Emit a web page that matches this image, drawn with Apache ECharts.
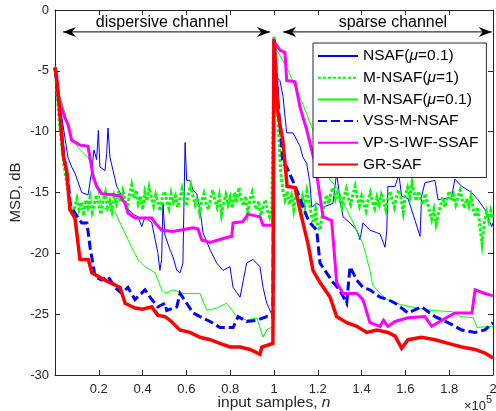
<!DOCTYPE html>
<html><head><meta charset="utf-8">
<script src="https://cdn.jsdelivr.net/npm/echarts@6/dist/echarts.min.js"></script>
<style>html,body{margin:0;padding:0;background:#fff}#c{width:496px;height:411px}</style>
</head><body><div id="c"></div><script>
// x values are in thousands of input samples (axis labels are shown in units of 1e5)
const seriesNames = ['NSAF(μ=0.1)', 'M-NSAF(μ=1)', 'M-NSAF(μ=0.1)', 'VSS-M-NSAF', 'VP-S-IWF-SSAF', 'GR-SAF'];
const xTickLabels = ['', '0.2', '0.4', '0.6', '0.8', '1', '1.2', '1.4', '1.6', '1.8', '2'];
const yTickLabels = ['-30', '-25', '-20', '-15', '-10', '-5', '0'];

const nsafData = [[0,-4.8],[1.4,-6.8],[3.1,-8.8],[5.9,-12.1],[7.6,-12.9],[9.1,-13.4],[12.2,-15],[15.1,-15.2],[16.8,-13.2],[17.8,-11.5],[19,-12.3],[19.8,-9.9],[20.5,-12.9],[22.8,-13.2],[23.6,-11.8],[24.2,-9.7],[25.1,-12.1],[26.5,-13.2],[28.2,-14.5],[30.5,-15.3],[32.7,-16.2],[35,-16.7],[37.9,-17],[39.6,-17.8],[41.1,-17],[44.2,-17.5],[47,-20],[47.9,-21.4],[48.7,-20.5],[49.3,-15.9],[50.2,-18.5],[52.5,-19.7],[53.9,-20.3],[55.6,-21.4],[57.1,-21.6],[58.4,-20.8],[59.4,-10.9],[60.1,-14],[61.6,-14],[63,-14.8],[64.7,-15.1],[66.2,-16.4],[67.6,-18.3],[70.8,-19.7],[73.8,-20.8],[76.7,-21.4],[79.9,-21.1],[81.3,-22.8],[84.5,-23.6],[87.5,-20.8],[90.4,-20.5],[93.6,-21.1],[95,-22.8],[96.7,-24.1],[98.2,-24.7],[99.5,-25.2],
  [100,-2.5],[101.2,-5.5],[102.7,-5.8],[104.1,-7.1],[105.8,-10.1],[108.7,-10.1],[111.9,-11.2],[113.2,-12.1],[114.9,-12.6],[116.4,-14.2],[117.2,-16.2],[119.5,-15.9],[122.4,-16.2],[126.9,-15.9],[128.6,-13.4],[130.1,-15.5],[131.5,-17],[134.7,-17.5],[137.8,-18.1],[139.3,-18.9],[140.6,-17.5],[143.8,-18.1],[146.9,-18.3],[148.4,-18.4],[150.7,-19.5],[151.5,-18.1],[152,-14.5],[155.3,-14.5],[157,-13.5],[158.3,-15.3],[161.2,-15.5],[164.4,-17.3],[166.7,-18.6],[167.4,-15.3],[168.9,-14.2],[173.5,-14],[174.9,-15.6],[181.1,-15.4],[182.6,-13.9],[185.7,-14.5],[190.3,-15],[193.2,-15.6],[196.3,-16.4],[199.4,-17.8],[200,-17.5]];

// M-NSAF(mu=1): one value per 1000 samples, from 0 to 200000
const mnsaf1Step = 1;
const mnsaf1Values = [-4.8,-7.0,-9.2,-11.0,-12.6,-13.8,-15.0,-16.0,-16.9,-16.2,-15.5,-16.4,-15.8,-16.9,-15.6,-16.2,-15.4,-16.6,-15.9,-15.2,-16.1,-16.8,-15.6,-15.0,-16.2,-15.7,-16.5,-15.3,-15.9,-15.1,-15.8,-14.9,-15.6,-16.3,-15.2,-14.4,-15.5,-14.8,-15.9,-15.3,-16.4,-15.0,-15.7,-14.6,-15.4,-16.1,-15.2,-15.8,-16.5,-15.4,-14.9,-15.7,-16.3,-15.1,-15.8,-15.3,-16.2,-15.5,-14.7,-15.6,-16.1,-15.0,-14.4,-15.3,-16.0,-15.4,-16.6,-15.7,-15.1,-15.9,-16.4,-15.5,-14.8,-15.6,-16.2,-15.3,-16.8,-15.9,-15.2,-16.0,-15.4,-16.3,-15.0,-15.8,-14.6,-15.5,-16.1,-15.3,-16.7,-15.6,-15.0,-15.9,-16.4,-15.7,-16.9,-16.2,-15.6,-16.5,-17.0,-16.3,
  -2.2,-5.5,-9.9,-13.2,-14.8,-15.6,-14.9,-16.0,-15.3,-16.4,-15.1,-15.8,-16.6,-15.4,-16.2,-14.9,-15.7,-16.8,-17.5,-16.4,-17.8,-18.1,-16.9,-16.0,-15.2,-15.9,-15.0,-14.6,-15.5,-14.8,-15.6,-16.2,-15.3,-14.7,-15.5,-16.0,-15.2,-14.5,-15.4,-16.1,-15.3,-15.9,-16.5,-15.6,-15.0,-15.8,-16.3,-15.4,-16.0,-15.2,-15.7,-16.4,-15.5,-14.9,-15.6,-16.2,-15.3,-14.8,-15.5,-16.6,-15.2,-14.6,-15.4,-14.2,-15.0,-15.7,-14.9,-15.6,-16.0,-15.1,-15.8,-16.5,-17.2,-16.4,-17.6,-16.8,-16.1,-15.4,-16.2,-15.5,-14.9,-15.7,-15.2,-16.0,-15.4,-14.8,-15.6,-16.3,-15.5,-16.1,-15.3,-16.4,-17.0,-16.2,-17.8,-19.2,-17.5,-16.6,-17.3,-16.5,-17.2];

const mnsaf01Data = [[0,-4.6],[2.3,-7.1],[4.6,-8.5],[7.6,-10.4],[10.5,-11.3],[13.7,-11.9],[15.1,-12.1],[18.3,-13.7],[21.3,-16.2],[24.2,-16.4],[27.4,-16.6],[30.5,-17.8],[35,-19.5],[37.9,-20.5],[41.1,-21.1],[45.7,-21.6],[48.7,-23],[50.2,-23.3],[53.9,-23],[58.4,-23.3],[66.2,-23.3],[69.3,-24.7],[73.8,-24.5],[78.4,-24.1],[83,-25.2],[87.5,-25.5],[92.1,-25.3],[95,-26.9],[96.7,-26.3],[99.5,-26],
  [100,-2.2],[101.2,-3.3],[105.8,-4.7],[110.4,-6.6],[113.3,-7.8],[117.8,-9.9],[122.4,-12.1],[125.6,-14],[128.6,-14.5],[133.2,-16.4],[137.8,-18.1],[140.6,-19.2],[143.8,-21.4],[145,-22.6],[148.4,-23.3],[151.6,-23.8],[157.5,-24.2],[165.3,-24.5],[172.6,-24.7],[181.7,-24.8],[185,-25.2],[191,-25.3],[192.7,-26.1],[198.6,-26],[200,-26]];

const vssData = [[0,-4.8],[2,-8],[4,-12],[6,-14],[7,-16],[9.1,-16.7],[12.2,-17.5],[14.6,-17.5],[16,-19.5],[18.3,-21.9],[21.3,-22.2],[24.2,-21.9],[27.4,-22.8],[30.5,-23.3],[33.3,-22.8],[36.5,-23.8],[41.1,-23],[44.2,-23.8],[47,-24.4],[50.2,-24.1],[51,-24.7],[55.6,-24.4],[57.1,-23.3],[60.1,-24.1],[63,-24.9],[66.2,-25.2],[70.8,-25.6],[75.3,-26.1],[81.3,-26.1],[83.6,-25.2],[87.5,-25.6],[92.1,-25.5],[96.7,-25.2],[99.5,-25.3],
  [100,-2.5],[101,-5],[102,-8],[103,-10],[104,-12.6],[105.8,-12.9],[110.4,-14.8],[115,-17],[116.5,-17.5],[119.5,-18.1],[121,-20.8],[124,-21.6],[127,-22.4],[130,-23],[133.2,-24.1],[134.7,-21.1],[137.8,-22.2],[140.6,-22.8],[143.8,-23],[148.4,-23.6],[152,-23.8],[155.3,-24.1],[161.2,-24.9],[167.4,-24.4],[173.5,-25.2],[179.5,-25.7],[185.7,-26.3],[191.8,-26.5],[196.3,-26.3],[200,-25.7]];

const vpData = [[0,-4.8],[2,-7.5],[4.6,-8.9],[5.9,-9.4],[7.6,-10.7],[11.4,-11.1],[15.1,-11.2],[17.4,-13.7],[19,-14.5],[21.3,-15.1],[27.4,-15.2],[29.7,-15.3],[32,-15.9],[33.3,-16.7],[36.5,-17.1],[44.2,-17.1],[45.7,-17.5],[48.7,-18.1],[53.9,-18.2],[57.1,-18.1],[63,-17.9],[65.3,-18],[67,-18.9],[70.8,-19.1],[78.4,-18.7],[80.7,-18.6],[81.3,-17.5],[85.8,-17.4],[88.1,-16.8],[91,-16.9],[93.6,-17],[95,-17.7],[99.5,-17.7],
  [100,-2.6],[102.7,-3.3],[105,-3.5],[105.8,-5.8],[109.6,-5.9],[111.9,-8],[115,-9.9],[118.7,-12.6],[121,-15.3],[122.4,-17],[126.3,-17.3],[127.9,-20.8],[128.6,-22.4],[131.5,-23.3],[137.8,-23.3],[140.6,-23.8],[143.8,-25.7],[148.4,-26],[150,-25.5],[152,-26],[155.3,-25.6],[161.2,-25.3],[168.9,-25.2],[172,-26],[176.7,-25.5],[182.6,-24.9],[190.4,-24.9],[191.8,-23],[196.3,-23.3],[200,-23.5]];

const grsafData = [[0,-4.7],[0.5,-5.2],[2,-8],[3.8,-12],[5.3,-13.2],[6.8,-16.4],[9.1,-17.1],[11.4,-20.5],[15.2,-20.5],[16.8,-21.6],[22.8,-22.2],[29.7,-22.8],[32,-24.1],[36.5,-24.5],[40,-24.6],[44.2,-24.4],[47,-25.1],[50.2,-25.2],[52.5,-25.5],[57,-26.3],[61.6,-26.5],[66.2,-26.9],[70.8,-27.1],[75.3,-27.4],[79.9,-27.7],[84.5,-27.7],[89,-27.9],[93.6,-28.3],[94.4,-27.7],[99.5,-27.4],
  [100,-2.4],[101,-5.5],[101.8,-8.5],[104,-10.7],[106,-14.5],[109.6,-14.6],[112.6,-17],[115.5,-19.2],[117.8,-21.4],[121,-22.4],[125.6,-23.6],[128.6,-25.2],[133.2,-25.7],[137.8,-26],[142.3,-26.5],[146.9,-26.3],[152,-26.5],[155.3,-26.8],[158.3,-27.8],[161.2,-27.1],[167.4,-26.9],[173.5,-27.1],[179.5,-27.4],[185.7,-27.7],[191.8,-27.9],[196.3,-28.2],[200,-28.6]];

const FONT = "'Liberation Sans', Arial, Helvetica, sans-serif";
const AX = '#262626';
const chart = echarts.init(document.getElementById('c'), null, {renderer: 'canvas'});

function line(name, data, color, width, type) {
  return {name, type: 'line', data, symbol: 'none', showSymbol: false, animation: false,
    lineStyle: {color, width, type, cap: 'butt', join: 'miter'}, itemStyle: {color}, emphasis: {disabled: true}};
}
const mnsaf1Data = mnsaf1Values.map((v, i) => [i * mnsaf1Step, v]);

const axisCommon = {
  type: 'value', axisLine: {show: true, onZero: false, lineStyle: {color: AX, width: 1}},
  axisTick: {show: true, inside: true, length: 5, lineStyle: {color: AX}},
  splitLine: {show: false}
};

chart.setOption({
  animation: false,
  backgroundColor: '#fff',
  grid: {left: 55, top: 10, right: 3, bottom: 36, containLabel: false, outerBoundsMode: 'none'},
  xAxis: [
    Object.assign({}, axisCommon, {min: 0, max: 200, interval: 20, position: 'bottom',
      axisLabel: {color: AX, fontSize: 13, fontFamily: FONT, margin: 8, formatter: (v) => xTickLabels[Math.round(v / 20)]},
      name: 'input samples, {i|n}', nameLocation: 'middle', nameGap: 20, nameMoveOverlap: false,
      nameTextStyle: {color: AX, fontSize: 15.5, fontFamily: FONT, rich: {i: {fontStyle: 'italic', fontSize: 15.5, fontFamily: FONT, color: AX}}}}),
    Object.assign({}, axisCommon, {min: 0, max: 200, interval: 20, position: 'top', axisLabel: {show: false}})
  ],
  yAxis: [
    Object.assign({}, axisCommon, {min: -30, max: 0, interval: 5, position: 'left',
      axisLabel: {color: AX, fontSize: 13, fontFamily: FONT, margin: 6, formatter: (v) => yTickLabels[Math.round((v + 30) / 5)]},
      name: 'MSD, dB', nameLocation: 'middle', nameGap: 32, nameMoveOverlap: false,
      nameTextStyle: {color: AX, fontSize: 15, fontFamily: FONT}}),
    Object.assign({}, axisCommon, {min: -30, max: 0, interval: 5, position: 'right', axisLabel: {show: false}})
  ],
  legend: {
    orient: 'vertical', left: 313, top: 43, width: 172,
    padding: [5, 8, 5, 4], itemGap: 5.7, itemWidth: 40, itemHeight: 14,
    backgroundColor: '#fff', borderColor: AX, borderWidth: 1,
    selectedMode: false,
    data: seriesNames,
    itemStyle: {opacity: 0},
    formatter: (n) => n.replace('μ', '{i|μ}'),
    textStyle: {color: '#000', fontSize: 15.5, fontFamily: FONT,
      rich: {i: {fontStyle: 'italic', fontSize: 15.5, fontFamily: FONT, color: '#000'}}}
  },
  series: [
    line(seriesNames[0], nsafData, '#0000ff', 1, 'solid'),
    line(seriesNames[1], mnsaf1Data, '#00ff00', 3, [3, 2]),
    line(seriesNames[2], mnsaf01Data, '#00ff00', 1, 'solid'),
    line(seriesNames[3], vssData, '#0000ff', 3, [9, 4]),
    line(seriesNames[4], vpData, '#ff00ff', 3, 'solid'),
    line(seriesNames[5], grsafData, '#ff0000', 3.5, 'solid')
  ]
});

// annotations (double arrows + channel labels), positioned through the axes
const P = (x, y) => chart.convertToPixel({seriesIndex: 0}, [x, y]);
function arrowHead(tip, dir) {
  const [tx, ty] = tip, L = 13, W = 5, N = 9;
  return {type: 'polygon', z: 100, shape: {points: [[tx, ty], [tx + dir * L, ty - W], [tx + dir * N, ty], [tx + dir * L, ty + W]]}, style: {fill: '#000'}};
}
function dblArrow(x1, x2, y) {
  const a = P(x1, y), b = P(x2, y);
  return [
    {type: 'line', z: 100, shape: {x1: a[0], y1: a[1], x2: b[0], y2: b[1]}, style: {stroke: '#000', lineWidth: 1}},
    arrowHead(a, 1), arrowHead(b, -1)
  ];
}
function label(text, x, y) {
  const p = P(x, y);
  return {type: 'text', z: 100, x: p[0], y: p[1], style: {text, fill: '#000', fontSize: 16, fontFamily: FONT, align: 'center', verticalAlign: 'middle'}};
}
const xr = P(200, -30);
chart.setOption({
  graphic: [].concat(
    dblArrow(3.65, 98.2, -1.8),
    dblArrow(104.2, 199.4, -1.8),
    [label('dispersive channel', 48.9, -1.07), label('sparse channel', 154.3, -1.07)],
    [{type: 'text', z: 100, x: xr[0] - 7, y: xr[1] + 31, style: {text: '×10', fill: AX, fontSize: 13, fontFamily: FONT, align: 'right', verticalAlign: 'middle'}},
     {type: 'text', z: 100, x: xr[0] - 7, y: xr[1] + 25, style: {text: '5', fill: AX, fontSize: 11, fontFamily: FONT, align: 'left', verticalAlign: 'middle'}}]
  )
});
</script></body></html>
